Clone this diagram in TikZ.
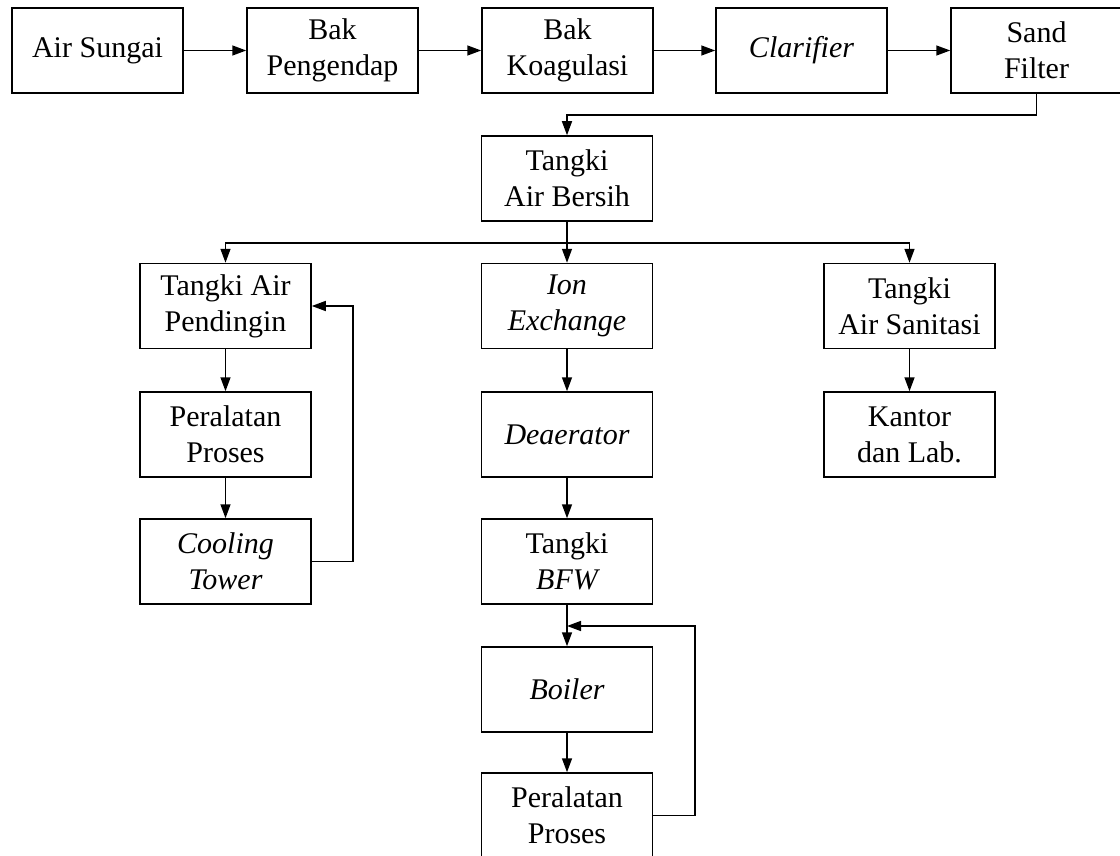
\documentclass[tikz,border=0pt]{standalone}
\usepackage{fontspec}
\setmainfont{Liberation Serif}
\usetikzlibrary{arrows.meta}
\begin{document}
\begin{tikzpicture}[x=1pt,y=-1pt,
  box/.style={draw, line width=1.5pt, minimum width=171pt, minimum height=85pt, inner sep=0pt, align=center, font=\fontsize{30}{36}\selectfont},
  arr/.style={line width=1.5pt, -{Triangle[length=14pt,width=10pt]}}]
\useasboundingbox (0,0) rectangle (1120,856);
\clip (0,0) rectangle (1120,856);
% row 1
\node[box] (sungai) at (97.5,50.5) {Air Sungai};
\node[box] (pengendap) at (332.5,50.5) {Bak\\Pengendap};
\node[box] (koagulasi) at (567.5,50.5) {Bak\\Koagulasi};
\node[box] (clarifier) at (801.5,50.5) {\itshape Clarifier};
\node[box] (sand) at (1036.5,50.5) {Sand\\Filter};
% air bersih
\node[box] (bersih) at (567,178.5) {Tangki\\Air Bersih};
% row A
\node[box] (pendingin) at (225.5,306) {Tangki Air\\Pendingin};
\node[box] (ion) at (567,306) {\itshape Ion\\\itshape Exchange};
\node[box] (sanitasi) at (909.5,306) {Tangki\\Air Sanitasi};
% row B
\node[box] (proses1) at (225.5,434.5) {Peralatan\\Proses};
\node[box] (deaerator) at (567,434.5) {\itshape Deaerator};
\node[box] (kantor) at (909.5,434.5) {Kantor\\dan Lab.};
% row C
\node[box] (cooling) at (225.5,561.5) {\itshape Cooling\\\itshape Tower};
\node[box] (bfw) at (567,561.5) {Tangki\\\itshape BFW};
% row D, E
\node[box] (boiler) at (567,689.5) {\itshape Boiler};
\node[box] (proses2) at (567,815.5) {Peralatan\\Proses};
% coordinates
\coordinate (sandturn) at (1036.5,115);
\coordinate (split) at (567,243);
\coordinate (coolr) at (353,561.5);
\coordinate (boilr) at (695,815.5);
\coordinate (boiltop) at (695,626);
\coordinate (boilin) at (567,626);
% connectors
\draw[arr] (sungai) -- (pengendap);
\draw[arr] (pengendap) -- (koagulasi);
\draw[arr] (koagulasi) -- (clarifier);
\draw[arr] (clarifier) -- (sand);
\draw[arr] (sand.south) -- (sandturn) -| (bersih.north);
\draw[arr] (bersih.south) -- (ion.north);
\draw[arr] (split) -| (pendingin.north);
\draw[arr] (split) -| (sanitasi.north);
\draw[arr] (pendingin) -- (proses1);
\draw[arr] (proses1) -- (cooling);
\draw[arr] (cooling.east) -- (coolr) |- (pendingin.east);
\draw[arr] (ion) -- (deaerator);
\draw[arr] (deaerator) -- (bfw);
\draw[arr] (sanitasi) -- (kantor);
\draw[arr] (bfw) -- (boiler);
\draw[arr] (boiler) -- (proses2);
\draw[arr] (proses2.east |- boilr) -- (boilr) -- (boiltop) -- (boilin);
\end{tikzpicture}
\end{document}
